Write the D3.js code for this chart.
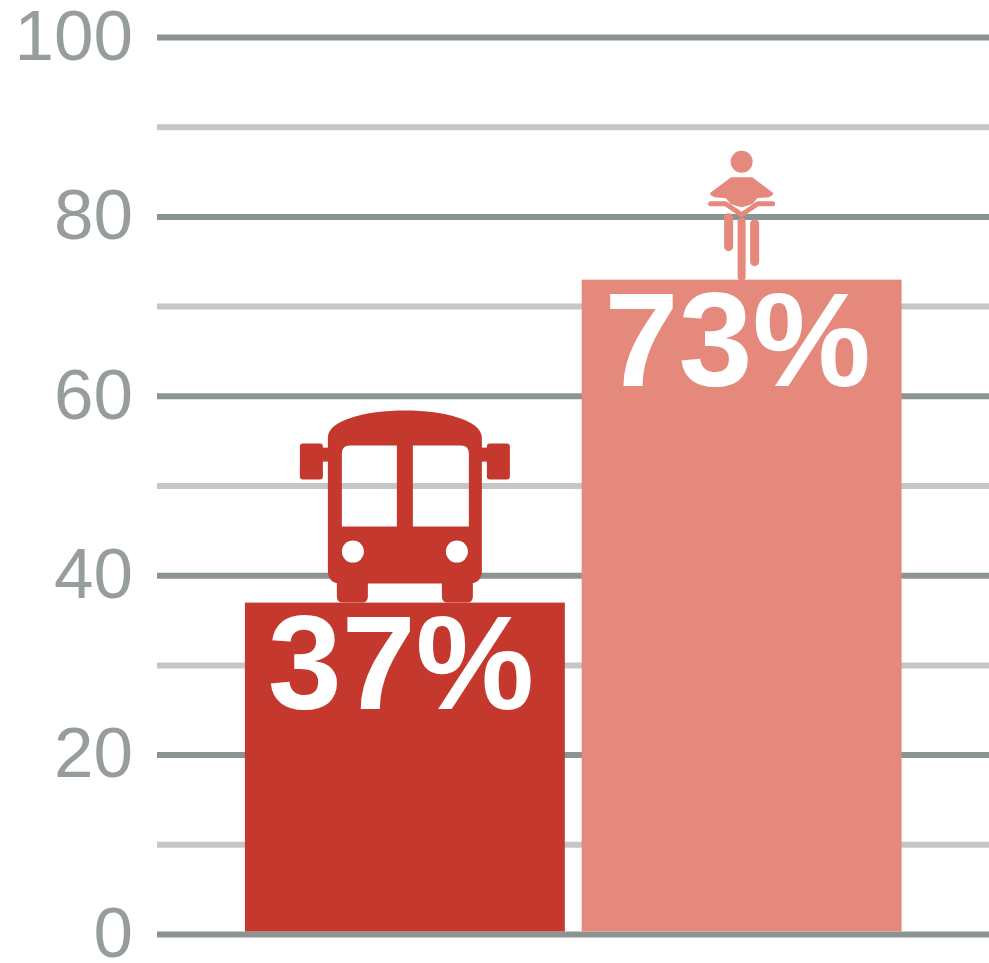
<!DOCTYPE html>
<html>
<head>
<meta charset="utf-8">
<script src="https://cdn.jsdelivr.net/npm/d3@7/dist/d3.min.js"></script>
<style>
html,body{margin:0;padding:0;background:#fff;overflow:hidden}
svg{display:block}
text{font-family:"Liberation Sans",Arial,sans-serif}
</style>
</head>
<body>
<svg id="c" width="989" height="963"></svg>
<script>
const categories = ["Bus", "Bike"];
const values = [37, 73];
const colors = ["#C4382D", "#E4897B"];
const gridTicks = [0,10,20,30,40,50,60,70,80,90,100];
const labelTicks = [0,20,40,60,80,100];

const svg = d3.select("#c");
const y = d3.scaleLinear().domain([0,100]).range([934.5,37.5]);
const x = d3.scaleBand().domain(categories).range([236.5,910]).paddingInner(0.05).paddingOuter(0.025);

const axis = d3.axisLeft(y).tickValues(gridTicks).tickSize(0)
  .tickFormat(d => labelTicks.includes(d) ? d : "");
const ag = svg.append("g").attr("transform","translate(157,0)").call(axis);
ag.select(".domain").remove();
ag.selectAll(".tick line").remove();
ag.selectAll(".tick text")
  .attr("x",-24).attr("y",-3).attr("dy","0.35em")
  .style("font-size","71px").style("font-family",'"Liberation Sans",Arial,sans-serif')
  .attr("fill","#979D9C");

svg.append("g").selectAll("line").data(gridTicks).join("line")
  .attr("x1",157).attr("x2",989)
  .attr("y1",d=>y(d)).attr("y2",d=>y(d))
  .attr("stroke",d=>labelTicks.includes(d)?"#8C9492":"#C6C6C6")
  .attr("stroke-width",6);

svg.append("g").selectAll("rect").data(values).join("rect")
  .attr("x",(d,i)=>x(categories[i]))
  .attr("width",x.bandwidth())
  .attr("y",d=>y(d))
  .attr("height",d=>y(0)-3-y(d))
  .attr("fill",(d,i)=>colors[i]);

svg.append("g").selectAll("text").data(values).join("text")
  .attr("x",(d,i)=>x(categories[i])+x.bandwidth()/2-4)
  .attr("y",d=>y(d)+106)
  .attr("text-anchor","middle")
  .attr("font-size",133).attr("font-weight",700).attr("fill","#fff")
  .text(d=>d+"%");

// Bus icon, anchored on the top centre of its bar
const bus = svg.append("g")
  .attr("transform",`translate(${x("Bus")+x.bandwidth()/2},${y(values[0])})`)
  .attr("fill",colors[0]);
bus.append("path").attr("fill-rule","evenodd").attr("d",
  "M-77,-165 C-77,-182 -40,-192 0,-192 C40,-192 77,-182 77,-165 L77,-32 Q77,-19 64,-19 L-64,-19 Q-77,-19 -77,-32 Z " +
  "M-63,-149 Q-63,-157 -55,-157 L-8,-157 L-8,-76 L-63,-76 Z " +
  "M8,-157 L56,-157 Q64,-157 64,-149 L64,-76 L8,-76 Z");
[-1,1].forEach(s=>{
  bus.append("rect").attr("x",s<0?-105:82).attr("y",-159).attr("width",23).attr("height",36).attr("rx",3);
  bus.append("rect").attr("x",s<0?-84:72).attr("y",-155).attr("width",12).attr("height",14);
  bus.append("path").attr("d",`M${s*37},-25 L${s*68},-25 L${s*68},-6 Q${s*68},0 ${s*62},0 L${s*43},0 Q${s*37},0 ${s*37},-6 Z`);
  bus.append("circle").attr("cx",s*52).attr("cy",-51).attr("r",11).attr("fill","#fff");
});

// Rider icon, anchored on the top centre of its bar
const bike = svg.append("g")
  .attr("transform",`translate(${x("Bike")+x.bandwidth()/2},${y(values[1])})`)
  .attr("fill",colors[1]);
bike.append("circle").attr("cx",0).attr("cy",-118).attr("r",11);
bike.append("path").attr("stroke",colors[1]).attr("stroke-width",3).attr("stroke-linejoin","round")
  .attr("d","M-10,-101 L10,-101 L30,-86 L27,-84 L15,-83 L10,-77 L0,-74 L-10,-77 L-15,-83 L-27,-84 L-30,-86 Z");
bike.append("path").attr("fill","none").attr("stroke",colors[1]).attr("stroke-width",5).attr("stroke-linecap","round")
  .attr("stroke-linejoin","round").attr("d","M-31,-76 L-16,-76 L0,-65 L16,-76 L31,-76");
bike.selectAll(".leg").data([[-13,-62,-33,9],[13,-56,-18,9],[0,-58,-3,8]]).join("line")
  .attr("x1",d=>d[0]).attr("x2",d=>d[0]).attr("y1",d=>d[1]).attr("y2",d=>d[2])
  .attr("stroke",colors[1]).attr("stroke-width",d=>d[3]).attr("stroke-linecap","round");
</script>
</body>
</html>
